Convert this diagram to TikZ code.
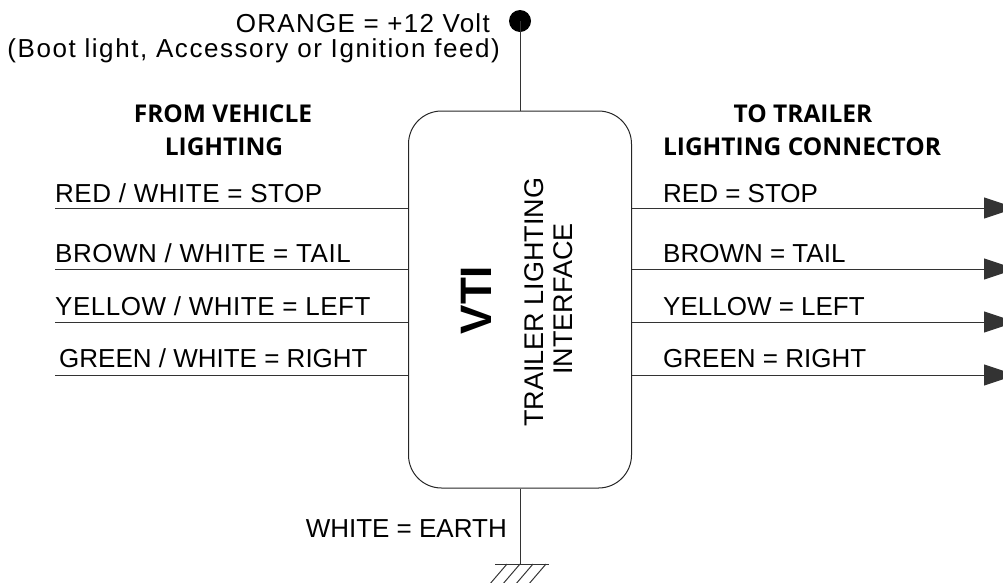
\documentclass[tikz,border=0pt]{standalone}
\usepackage{fontspec}
\setmainfont{Liberation Sans}
\newfontfamily\hdrfont{Open Sans}
\newfontfamily\widefont{Liberation Sans}[LetterSpace=6]
\newfontfamily\midfont{Liberation Sans}[LetterSpace=5]
\newfontfamily\lblfont{Liberation Sans}[LetterSpace=2]
\usetikzlibrary{arrows.meta}
\begin{document}
\begin{tikzpicture}[x=1pt,y=-1pt,
  wire/.style={line width=1pt, draw=black!80},
  lbl/.style={inner sep=0pt, font=\fontsize{26}{29}\selectfont},
  hdr/.style={inner sep=0pt, anchor=base, font=\hdrfont\bfseries\fontsize{24.5}{33}\selectfont},
  outarrow/.style={wire, -{Triangle[length=32pt,width=21pt]}},
  boxstyle/.style={draw=black!85, line width=1pt, rounded corners=33pt, minimum width=223pt, minimum height=377pt, inner sep=0pt}]
\clip (0,0) rectangle (1003,582);
% main box
\node[boxstyle] (vti) at (520,299.5) {};
\node[rotate=90, anchor=base, inner sep=0pt, font=\bfseries\fontsize{44}{44}\selectfont] (vtit) at (491,300) {VTI};
\node[lbl, rotate=90, anchor=base, font=\fontsize{27}{29}\selectfont] (tli1) at (543,302) {TRAILER LIGHTING};
\node[lbl, rotate=90, anchor=base, font=\fontsize{27}{29}\selectfont] (tli2) at (572,299) {INTERFACE};
% supply
\node[circle, fill=black, inner sep=0pt, minimum size=22pt] (dot) at (520,21) {};
\draw[wire] (dot.center) -- (vti.north);
\node[lbl, anchor=base east, font=\midfont\fontsize{26}{29}\selectfont] (sup1) at (490,32) {ORANGE = +12 Volt};
\node[lbl, anchor=base east, font=\widefont\fontsize{26}{29}\selectfont] (sup2) at (500,57) {(Boot light, Accessory or Ignition feed)};
% earth
\coordinate (gnd) at (520,564);
\draw[wire] (vti.south) -- (gnd);
\coordinate (gl) at (495,564);
\coordinate (gr) at (549,564);
\draw[wire] (gl) -- (gr);
\foreach \hx in {507,520,533,546} {\draw[wire] (\hx,564) -- ++(-18,21);}
\node[lbl, anchor=base east] (earth) at (507,537) {WHITE = EARTH};
% headers
\node[hdr] (h1) at (223,122) {FROM VEHICLE};
\node[hdr] (h2) at (224,155) {LIGHTING};
\node[hdr] (h3) at (803,122) {TO TRAILER};
\node[hdr] (h4) at (802,155) {LIGHTING CONNECTOR};
% input wires
\coordinate (l1) at (55,208);
\coordinate (l2) at (55,269);
\coordinate (l3) at (55,322);
\coordinate (l4) at (55,375);
\draw[wire] (l1) -- (l1 -| vti.west);
\draw[wire] (l2) -- (l2 -| vti.west);
\draw[wire] (l3) -- (l3 -| vti.west);
\draw[wire] (l4) -- (l4 -| vti.west);
\node[lbl, anchor=base west, font=\lblfont\fontsize{26}{29}\selectfont] (li1) at (55,202) {RED / WHITE = STOP};
\node[lbl, anchor=base west, font=\lblfont\fontsize{26}{29}\selectfont] (li2) at (55,262) {BROWN / WHITE = TAIL};
\node[lbl, anchor=base west, font=\lblfont\fontsize{26}{29}\selectfont] (li3) at (55,315) {YELLOW / WHITE = LEFT};
\node[lbl, anchor=base west] (li4) at (59,367) {GREEN / WHITE = RIGHT};
% output wires
\coordinate (r1) at (1016,208);
\coordinate (r2) at (1016,269);
\coordinate (r3) at (1016,322);
\coordinate (r4) at (1016,375);
\draw[outarrow] (vti.east |- r1) -- (r1);
\draw[outarrow] (vti.east |- r2) -- (r2);
\draw[outarrow] (vti.east |- r3) -- (r3);
\draw[outarrow] (vti.east |- r4) -- (r4);
\node[lbl, anchor=base west] (ro1) at (663,202) {RED = STOP};
\node[lbl, anchor=base west] (ro2) at (663,262) {BROWN = TAIL};
\node[lbl, anchor=base west] (ro3) at (663,315) {YELLOW = LEFT};
\node[lbl, anchor=base west] (ro4) at (663,367) {GREEN = RIGHT};
\end{tikzpicture}
\end{document}
